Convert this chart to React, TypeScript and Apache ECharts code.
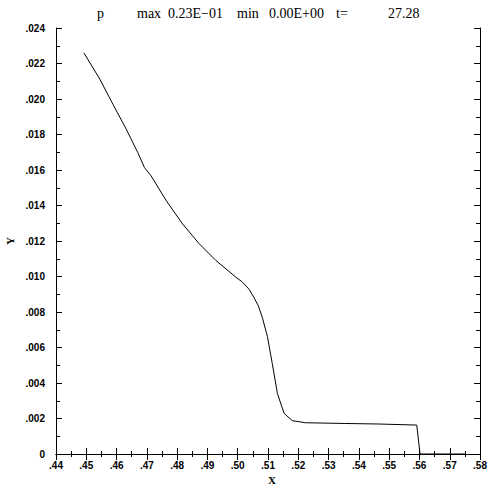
import React, { useEffect, useRef } from "react";
import * as echarts from "echarts";

const xValues = [
  0.4492, 0.4545, 0.4588, 0.4632, 0.467, 0.4692, 0.4714, 0.4764, 0.4818, 0.4873,
  0.4928, 0.4994, 0.5016, 0.5038, 0.5054, 0.5068, 0.5081, 0.5098, 0.5114, 0.5131,
  0.5153, 0.518, 0.5224, 0.5355, 0.5465, 0.5591, 0.5602, 0.575,
];
const yValues = [
  0.0226, 0.02111, 0.0197, 0.0183, 0.01698, 0.01614, 0.01567, 0.01427, 0.01296, 0.01184,
  0.0109, 0.00996, 0.00968, 0.00927, 0.0088, 0.00835, 0.0077, 0.00662, 0.0051, 0.00341,
  0.00229, 0.00188, 0.00176, 0.00172, 0.00169, 0.00163, 0, 0,
];
const titleParts = [
  { text: "p", x: 97 },
  { text: "max", x: 137 },
  { text: "0.23E\u221201", x: 168 },
  { text: "min", x: 237 },
  { text: "0.00E+00", x: 269 },
  { text: "t=", x: 336 },
  { text: "27.28", x: 388 },
];
const xName = "X";
const yName = "Y";

const fmtX = (v: number) => v.toFixed(2).replace(/^0/, "");
const fmtY = (v: number) => (Math.abs(v) < 1e-9 ? "0" : v.toFixed(3).replace(/^0/, ""));

export default function App() {
  const ref = useRef<HTMLDivElement>(null);
  useEffect(() => {
    if (!ref.current) return;
    const chart = echarts.init(ref.current, null, { renderer: "svg" });
    const labelStyle = {
      color: "#000",
      fontFamily: "Liberation Sans",
      fontWeight: "bold" as const,
      fontSize: 10,
    };
    const axisLine = { show: true, lineStyle: { color: "#000", width: 1 } };
    const baseX = {
      type: "value" as const,
      min: 0.44,
      max: 0.58,
      interval: 0.01,
      axisLine,
      axisTick: { show: true, inside: true, length: 6, lineStyle: { color: "#000" } },
      minorTick: { show: true, splitNumber: 2, length: 3, lineStyle: { color: "#000" } },
      splitLine: { show: false },
    };
    const baseY = {
      type: "value" as const,
      min: 0,
      max: 0.024,
      interval: 0.002,
      axisLine,
      axisTick: { show: true, inside: true, length: 6, lineStyle: { color: "#000" } },
      minorTick: { show: true, splitNumber: 2, length: 4, lineStyle: { color: "#000" } },
      splitLine: { show: false },
    };
    chart.setOption({
      animation: false,
      backgroundColor: "#fff",
      grid: { left: 56, right: 8, top: 28, bottom: 34, containLabel: false },
      xAxis: [
        {
          ...baseX,
          position: "bottom",
          axisLabel: { ...labelStyle, margin: 6, formatter: fmtX },
        },
        { ...baseX, position: "top", axisLabel: { show: false } },
      ],
      yAxis: [
        {
          ...baseY,
          position: "left",
          axisLabel: { ...labelStyle, margin: 11, formatter: fmtY },
        },
        { ...baseY, position: "right", axisLabel: { show: false } },
      ],
      graphic: [
        ...titleParts.map((p) => ({
          type: "text",
          left: p.x,
          top: 6,
          style: {
            text: p.text,
            fill: "#000",
            font: "14px 'Liberation Serif'",
          },
        })),
        {
          type: "text",
          x: 272,
          y: 480,
          style: {
            text: xName,
            fill: "#000",
            font: "bold 11px 'Liberation Serif'",
            align: "center",
            verticalAlign: "middle",
          },
        },
        {
          type: "text",
          x: 10,
          y: 241,
          rotation: Math.PI / 2,
          style: {
            text: yName,
            fill: "#000",
            font: "bold 11px 'Liberation Serif'",
            align: "center",
            verticalAlign: "middle",
          },
        },
      ],
      series: [
        {
          type: "line",
          data: xValues.map((x, i) => [x, yValues[i]]),
          showSymbol: false,
          symbol: "none",
          lineStyle: { color: "#000", width: 1 },
          xAxisIndex: 0,
          yAxisIndex: 0,
        },
      ],
    });
    return () => chart.dispose();
  }, []);
  return <div ref={ref} style={{ width: 490, height: 488, position: "absolute", left: 0, top: 0 }} />;
}
